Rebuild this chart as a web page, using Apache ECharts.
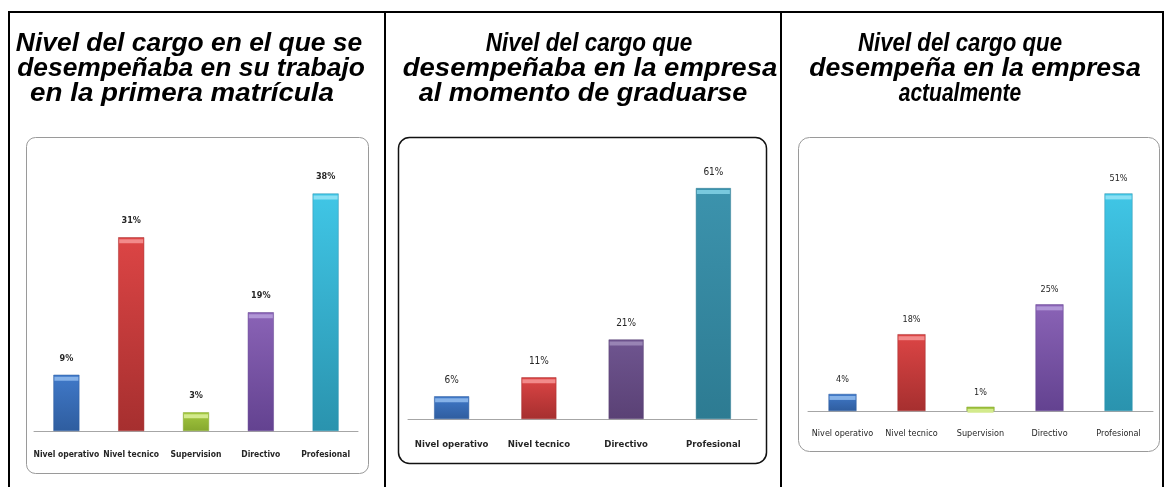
<!DOCTYPE html>
<html>
<head>
<meta charset="utf-8">
<script src="https://cdn.jsdelivr.net/npm/echarts@6/dist/echarts.min.js"></script>
<style>
  html, body { margin: 0; padding: 0; background: #fff; }
  #chart { width: 1165px; height: 487px; }
</style>
</head>
<body>
<div id="chart"></div>
<script>
// datos de los tres graficos
var titles = [
    ['Nivel del cargo en el que se', 'desempeñaba en su trabajo', 'en la primera matrícula'],
    ['Nivel del cargo que', 'desempeñaba en la empresa', 'al momento de graduarse'],
    ['Nivel del cargo que', 'desempeña en la empresa', 'actualmente'],
]
var categories1 = ['Nivel operativo', 'Nivel tecnico', 'Supervision', 'Directivo', 'Profesional']
var values1 = [9, 31, 3, 19, 38]
var categories2 = ['Nivel operativo', 'Nivel tecnico', 'Directivo', 'Profesional']
var values2 = [6, 11, 21, 61]
var categories3 = ['Nivel operativo', 'Nivel tecnico', 'Supervision', 'Directivo', 'Profesional']
var values3 = [4, 18, 1, 25, 51]

var narrow = "'DejaVu Sans Condensed', 'Liberation Sans', sans-serif"

// colores: [arriba, abajo, brillo]
var blue = ['#4079c9', '#2f5d9f', '#86b2e8']
var red = ['#dc4545', '#a62f2f', '#f28a8a']
var green = ['#a3c83f', '#86a82e', '#d3ea8c']
var purple = ['#8a63b6', '#634290', '#b096d6']
var cyan = ['#40c6e6', '#2a93ae', '#8ae0f4']
var purpleDark = ['#6f5590', '#5a4175', '#9884b4']
var teal = ['#3c93ad', '#2d7b92', '#78c9de']

var colors1 = [blue, red, green, purple, cyan]
var colors2 = [blue, red, purpleDark, teal]
var colors3 = [blue, red, green, purple, cyan]

function grad(c) {
    return new echarts.graphic.LinearGradient(0, 0, 0, 1, [
        { offset: 0, color: c[0] },
        { offset: 1, color: c[1] },
    ])
}

function barData(values, colors) {
    return values.map(function (v, i) {
        return { value: v, itemStyle: { color: grad(colors[i]), borderColor: colors[i][1], borderWidth: 0.5 } }
    })
}
function capData(values, colors) {
    return values.map(function (v, i) {
        return { value: v, itemStyle: { color: colors[i][2] } }
    })
}

// titleX / titleScale: centro y ancho de cada linea del titulo
var panels = [
    { cats: categories1, vals: values1, cols: colors1, left: 34, width: 324, top: 181, height: 250, max: 40, bw: 26,
      bold: true, valBold: true, labelSize: 8.5, valSize: 9, labelMargin: 19, valDist: 12,
      titleX: [189, 191, 182], titleScale: [1.056, 1.056, 1.11] },
    { cats: categories2, vals: values2, cols: colors2, left: 408, width: 349, top: 154, height: 265, max: 70, bw: 35,
      bold: true, valBold: false, labelSize: 9.5, valSize: 10, labelMargin: 21, valDist: 11,
      titleX: [589, 590, 583], titleScale: [0.9, 1.1, 1.08] },
    { cats: categories3, vals: values3, cols: colors3, left: 808, width: 345, top: 155, height: 256, max: 60, bw: 28,
      bold: false, valBold: false, labelSize: 9, valSize: 9, labelMargin: 18, valDist: 10,
      titleX: [960, 975, 960], titleScale: [0.89, 1.065, 0.84] },
]

var grids = [], xAxes = [], yAxes = [], series = []
panels.forEach(function (p, k) {
    grids.push({ left: p.left, top: p.top, width: p.width, height: p.height })
    xAxes.push({
        type: 'category',
        gridIndex: k,
        data: p.cats,
        axisLine: { lineStyle: { color: '#a6a6a6', width: 1 } },
        axisTick: { show: false },
        axisLabel: {
            interval: 0,
            margin: p.labelMargin,
            fontFamily: narrow,
            fontSize: p.labelSize,
            fontWeight: p.bold ? 'bold' : 'normal',
            color: '#262626',
        },
    })
    yAxes.push({ type: 'value', gridIndex: k, min: 0, max: p.max, show: false, splitLine: { show: false } })
    series.push({
        type: 'bar',
        xAxisIndex: k,
        yAxisIndex: k,
        barWidth: p.bw,
        data: barData(p.vals, p.cols),
        label: {
            show: true,
            position: 'top',
            distance: p.valDist,
            formatter: '{c}%',
            fontFamily: narrow,
            fontSize: p.valSize,
            fontWeight: p.valBold ? 'bold' : 'normal',
            color: '#262626',
        },
    })
    // franja clara arriba de cada barra
    series.push({
        type: 'pictorialBar',
        xAxisIndex: k,
        yAxisIndex: k,
        barWidth: p.bw,
        symbol: 'rect',
        symbolSize: [p.bw - 2, 4],
        symbolPosition: 'end',
        symbolOffset: [0, '50%'],
        z: 3,
        silent: true,
        data: capData(p.vals, p.cols),
    })
})

var graphic = [
    // bordes de la tabla
    { type: 'polyline', shape: { points: [[9, 487], [9, 12], [1163, 12], [1163, 487]] }, style: { stroke: '#000', lineWidth: 2, fill: null } },
    { type: 'line', shape: { x1: 385, y1: 12, x2: 385, y2: 487 }, style: { stroke: '#000', lineWidth: 2 } },
    { type: 'line', shape: { x1: 781, y1: 12, x2: 781, y2: 487 }, style: { stroke: '#000', lineWidth: 2 } },
    // marcos de los graficos
    { type: 'rect', shape: { x: 26.5, y: 137.5, width: 342, height: 336, r: 9 }, style: { fill: null, stroke: '#9a9a9a', lineWidth: 1 } },
    { type: 'rect', shape: { x: 398.5, y: 137.5, width: 368, height: 326, r: 11 }, style: { fill: null, stroke: '#111', lineWidth: 1.5 } },
    { type: 'rect', shape: { x: 798.5, y: 137.5, width: 361, height: 314, r: 11 }, style: { fill: null, stroke: '#9a9a9a', lineWidth: 1 } },
]

// titulos: una linea por texto
var titleFont = 'italic bold 25px "Liberation Sans", Arial, sans-serif'
panels.forEach(function (p, k) {
    titles[k].forEach(function (line, i) {
        graphic.push({
            type: 'text',
            x: p.titleX[i],
            y: 32 + i * 25,
            scaleX: p.titleScale[i],
            style: { text: line, font: titleFont, fill: '#000', textAlign: 'center', textVerticalAlign: 'top', lineHeight: 25 },
        })
    })
})

var myChart = echarts.init(document.getElementById('chart'))
myChart.setOption({
    animation: false,
    backgroundColor: '#fff',
    grid: grids,
    xAxis: xAxes,
    yAxis: yAxes,
    series: series,
    graphic: graphic,
})
</script>
</body>
</html>
